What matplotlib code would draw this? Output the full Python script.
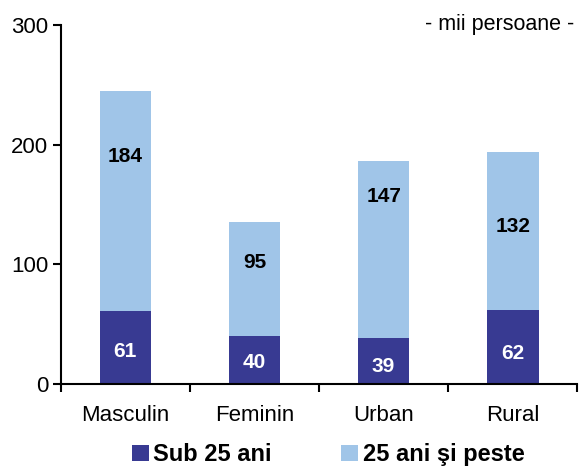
import numpy as np
import matplotlib
matplotlib.use('Agg')
import matplotlib.pyplot as plt

plt.rcParams['font.family'] = ['Liberation Sans', 'DejaVu Sans']

categorii = ['Masculin', 'Feminin', 'Urban', 'Rural']
sub_25 = [61, 40, 39, 62]
peste_25 = [184, 95, 147, 132]
# where the labels sit (in data units)
poz_sub = [27, 18, 15, 26]
poz_peste = [190, 102, 157, 132]

c_inchis = '#383A92'
c_deschis = '#A0C5E8'

fig = plt.figure(figsize=(5.79, 4.68), dpi=100)
ax = fig.add_axes([0.105, 0.179, 0.892, 0.768])

x = np.arange(len(categorii))
ax.bar(x, sub_25, width=0.4, color=c_inchis, label='Sub 25 ani')
ax.bar(x, peste_25, width=0.4, bottom=sub_25, color=c_deschis, label='25 ani şi peste')

for i in range(len(x)):
    ax.text(x[i], poz_sub[i], str(sub_25[i]), ha='center', va='center',
            color='white', fontsize=15, fontweight='bold')
    ax.text(x[i], poz_peste[i], str(peste_25[i]), ha='center', va='center',
            color='black', fontsize=15, fontweight='bold')

ax.set_xlim(-0.5, 3.5)
ax.set_ylim(0, 300)
ax.set_yticks([0, 100, 200, 300])
ax.set_xticks(x)
ax.set_xticklabels(categorii)
ax.set_xticks([-0.5, 0.5, 1.5, 2.5, 3.5], minor=True)
ax.tick_params(axis='x', which='major', length=0, pad=15, labelsize=16)
ax.tick_params(axis='x', which='minor', length=6, width=1.5, direction='out')
ax.tick_params(axis='y', length=6, width=1.5, direction='out', labelsize=16, pad=3)
for s in ['top', 'right']:
    ax.spines[s].set_visible(False)
for s in ['left', 'bottom']:
    ax.spines[s].set_linewidth(1.5)

ax.text(0.995, 1.0, '- mii persoane -', transform=ax.transAxes, ha='right',
        va='center', fontsize=15.5)

# legend sits low, almost on the bottom edge like the original
leg = fig.legend(loc='lower center', bbox_to_anchor=(0.567, -0.042), ncol=2,
                 frameon=False, prop={'weight': 'bold', 'size': 17},
                 handlelength=0.7, handleheight=0.7, handletextpad=0.2,
                 columnspacing=2.95)

fig.savefig('out.png', dpi=100)
